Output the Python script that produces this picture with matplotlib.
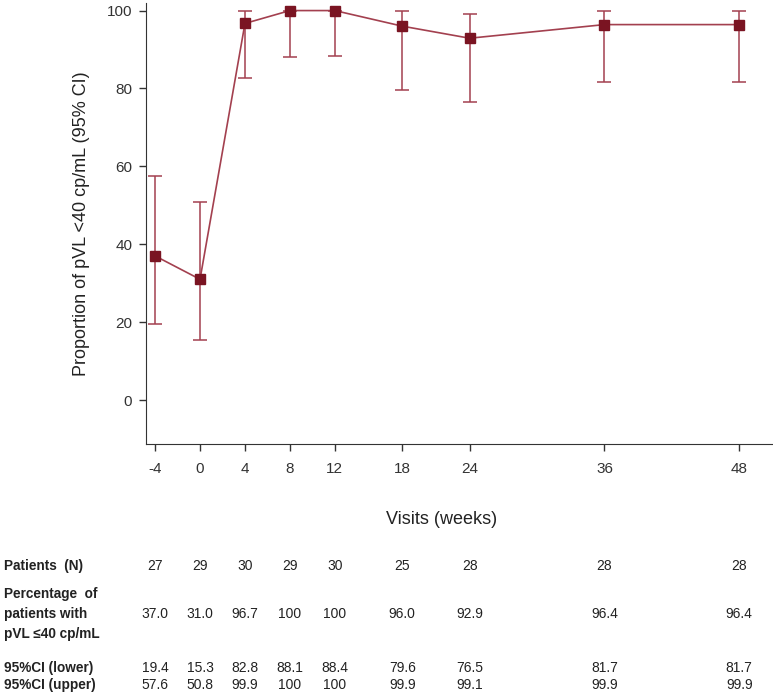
import numpy as np
import matplotlib.pyplot as plt
import matplotlib.transforms as mtransforms

plt.rcParams['font.family'] = ['Liberation Sans', 'DejaVu Sans']

weeks = [-4, 0, 4, 8, 12, 18, 24, 36, 48]
patients = [27, 29, 30, 29, 30, 25, 28, 28, 28]
pct = [37.0, 31.0, 96.7, 100, 100, 96.0, 92.9, 96.4, 96.4]
ci_low = [19.4, 15.3, 82.8, 88.1, 88.4, 79.6, 76.5, 81.7, 81.7]
ci_up = [57.6, 50.8, 99.9, 100, 100, 99.9, 99.1, 99.9, 99.9]

pct_txt = ["37.0", "31.0", "96.7", "100", "100", "96.0", "92.9", "96.4", "96.4"]
low_txt = ["19.4", "15.3", "82.8", "88.1", "88.4", "79.6", "76.5", "81.7", "81.7"]
up_txt = ["57.6", "50.8", "99.9", "100", "100", "99.9", "99.1", "99.9", "99.9"]

line_col = "#a3404f"
mark_col = "#7a1422"
txt_col = "#333333"

fig = plt.figure(figsize=(7.73, 6.96), dpi=100)
ax = fig.add_axes([0.189, 0.362, 0.811, 0.634])

pct_a = np.array(pct)
yerr = [pct_a - np.array(ci_low), np.array(ci_up) - pct_a]
ax.errorbar(weeks, pct, yerr=yerr, color=line_col, lw=1.2, elinewidth=1.1,
            capsize=5, capthick=1.1, marker='s', ms=7.5, mfc=mark_col, mec=mark_col,
            zorder=3)

ax.set_xlim(-4.8, 51)
ax.set_ylim(-11.3, 102)
ax.set_xticks(weeks)
ax.set_xticklabels([str(w) for w in weeks])
ax.set_yticks([0, 20, 40, 60, 80, 100])
ax.spines['top'].set_visible(False)
ax.spines['right'].set_visible(False)
ax.spines['left'].set_color('#333333')
ax.spines['bottom'].set_color('#333333')
ax.tick_params(axis='both', direction='out', length=5, width=1, color='#333333',
               labelsize=11, labelcolor=txt_col, pad=5)
ax.tick_params(axis='x', pad=8)

ax.set_ylabel("Proportion of pVL <40 cp/mL (95% CI)", fontsize=13, color='#222222', labelpad=12)
fig.text(442 / 773, 1 - 520 / 696, "Visits (weeks)", fontsize=13, color='#222222',
         ha='center', va='center')

# table below the chart
trans = mtransforms.blended_transform_factory(ax.transData, fig.transFigure)

def fy(py):
    return 1 - py / 696

lab_kw = dict(fontsize=9.8, fontweight='bold', color='#222222', ha='left', va='center')
val_kw = dict(fontsize=10, color='#222222', ha='center', va='center')

fig.text(4 / 773, fy(566), "Patients  (N)", **lab_kw)
fig.text(4 / 773, fy(594), "Percentage  of", **lab_kw)
fig.text(4 / 773, fy(614), "patients with", **lab_kw)
fig.text(4 / 773, fy(634), "pVL \u226440 cp/mL", **lab_kw)
fig.text(4 / 773, fy(668), "95%CI (lower)", **lab_kw)
fig.text(4 / 773, fy(685), "95%CI (upper)", **lab_kw)

for i, w in enumerate(weeks):
    ax.text(w, fy(566), str(patients[i]), transform=trans, **val_kw)
    ax.text(w, fy(614), pct_txt[i], transform=trans, **val_kw)
    ax.text(w, fy(668), low_txt[i], transform=trans, **val_kw)
    ax.text(w, fy(685), up_txt[i], transform=trans, **val_kw)

fig.savefig("out.png", dpi=100)
